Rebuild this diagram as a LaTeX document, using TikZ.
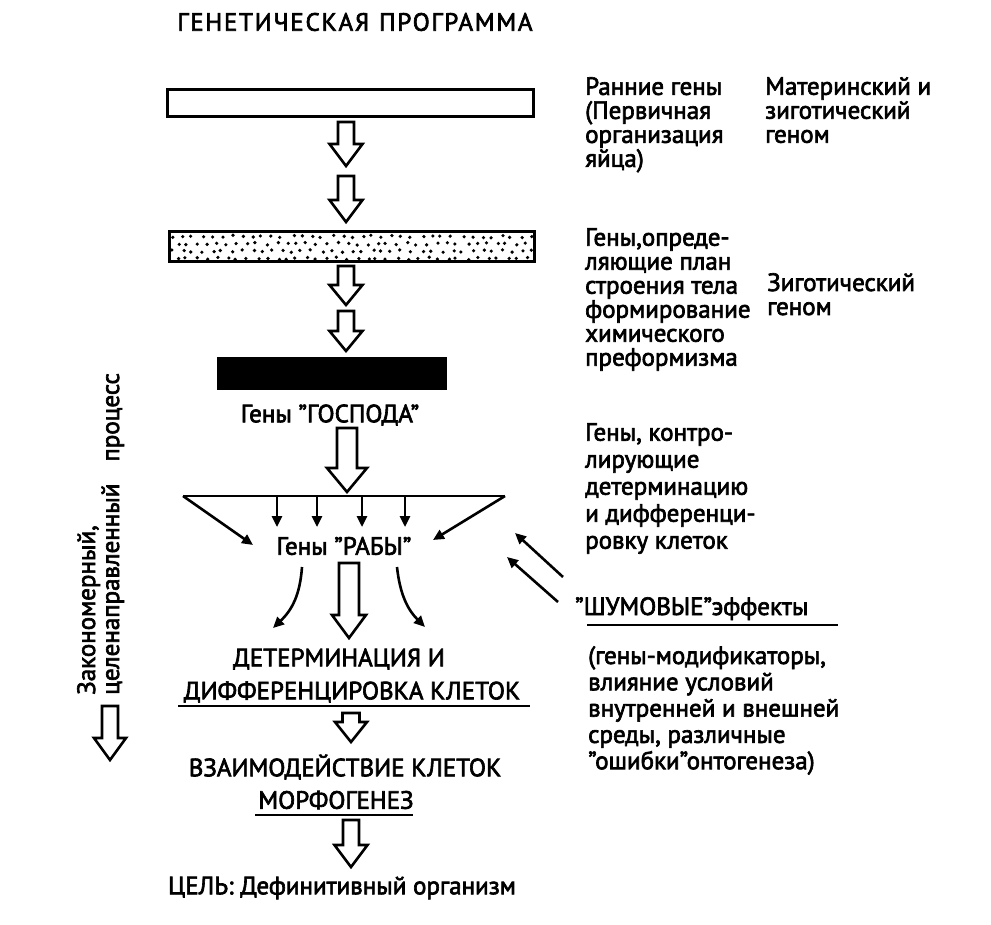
\documentclass[tikz,border=0pt]{standalone}
\usepackage{fontspec}
\setmainfont{PT Sans}[FakeBold=2.6]
\usetikzlibrary{arrows.meta}
\newcommand{\blockarr}[6]{%
  \draw[barrsty] ({#1-#4},#2) -- ({#1+#4},#2) -- ({#1+#4},{#3-#6}) -- ({#1+#5},{#3-#6}) -- (#1,#3) -- ({#1-#5},{#3-#6}) -- ({#1-#4},{#3-#6}) -- cycle;}
\begin{document}
\begin{tikzpicture}[x=1pt,y=-1pt,
  txt/.style={inner sep=0pt, font=\fontsize{25}{24}\selectfont},
  lbl/.style={txt, align=left},
  conn/.style={line width=2.6pt, -{Triangle[length=11pt,width=10pt]}},
  uline/.style={line width=2.6pt},
  barrsty/.style={draw, line width=2.6pt, fill=white, line join=miter},
  barbox/.style={draw, line width=3pt, inner sep=0pt}]
\useasboundingbox[fill=white] (0,0) rectangle (991,925);

% title
\node[txt, font=\fontsize{25}{24}\selectfont\addfontfeature{LetterSpace=7}] (title) at (355,22) {ГЕНЕТИЧЕСКАЯ\hspace{10pt}ПРОГРАММА};

% bars
\node[barbox, fill=white, minimum width=366pt, minimum height=27pt] (bar1) at (350.5,103) {};
\node[barbox, fill=white, minimum width=365pt, minimum height=30pt] (bar2) at (352,246.5) {};
\begin{scope}
  \clip (170,233) rectangle (534,260);
  \pgfmathsetseed{4242}
  \foreach \r in {0,...,3}{
    \foreach \c in {0,...,37}{
      \pgfmathsetmacro\px{172 + 10*\c + 5*mod(\r,2) + 2.5*rand}
      \pgfmathsetmacro\py{236.5 + 7.3*\r + 1.3*rand}
      \fill (\px,\py) circle[radius=1.8pt];
    }
  }
\end{scope}
\node[fill=black, inner sep=0pt, minimum width=230pt, minimum height=33pt] (bar3) at (332,373.5) {};

% block arrows along the axis
\blockarr{346}{122}{166}{8}{16.5}{22}
\blockarr{346}{176}{222}{8}{16.5}{22}
\blockarr{346}{266}{305}{8}{16.5}{20}
\blockarr{346}{311}{351}{8}{16.5}{20}

\node[txt] (master) at (330,415) {Гены ”ГОСПОДА”};
\blockarr{347}{428}{492}{10}{20}{24}

% fan to slave genes
\coordinate (tl) at (183,496);
\coordinate (tr) at (505,496);
\draw[uline] (tl) -- (tr);
\node[txt] (slave) at (344,546) {Гены ”РАБЫ”};
\coordinate (tlt) at (253,545);
\coordinate (trt) at (433,540);
\draw[conn] (tl) -- (tlt);
\draw[conn] (tr) -- (trt);
\foreach \x in {277,317,362,405}{
  \draw[conn] (\x,0 |- tl) -- (\x,527);
}

\blockarr{349}{563}{638}{10}{17}{23}
\coordinate (cl0) at (302,567);
\coordinate (cl1) at (273,628);
\coordinate (cr0) at (397,567);
\coordinate (cr1) at (425,627);
\draw[conn] (cl0) .. controls (300,595) and (292,610) .. (cl1);
\draw[conn] (cr0) .. controls (400,595) and (408,610) .. (cr1);

\node[txt] (det1) at (339,659) {ДЕТЕРМИНАЦИЯ И};
\node[txt] (det2) at (352,692) {ДИФФЕРЕНЦИРОВКА КЛЕТОК};
\draw[uline] (178,706) -- (530,706);
\blockarr{351}{713}{742}{8.5}{16}{20}
\node[txt] (inter) at (345,767) {ВЗАИМОДЕЙСТВИЕ КЛЕТОК};
\node[txt] (morph) at (336,800) {МОРФОГЕНЕЗ};
\draw[uline] (255,815) -- (413,815);
\blockarr{351}{820}{867}{8}{16.5}{22}
\node[txt] (goal) at (342,888) {ЦЕЛЬ: Дефинитивный организм};

% vertical text and left arrow
\node[lbl, rotate=90, anchor=north west] (proc) at (77,695) {Закономерный,\\целенаправленный\hspace{22pt}процесс};
\blockarr{110}{706}{760}{8}{16}{22}

% right column
\node[lbl, anchor=north west] (early) at (585,77) {Ранние гены\\(Первичная\\организация\\яйца)};
\node[lbl, anchor=north west] (mat) at (765,77) {Материнский и\\зиготический\\геном};
\node[lbl, anchor=north west] (plan) at (585,228) {Гены,опреде-\\ляющие план\\строения тела\\формирование\\химического\\преформизма};
\node[lbl, anchor=north west] (zyg) at (767,273) {Зиготический\\геном};
\node[lbl, anchor=north west, font=\fontsize{25}{27}\selectfont] (ctrl) at (585,423) {Гены, контро-\\лирующие\\детерминацию\\и дифференци-\\ровку клеток};
\node[txt, anchor=north west] (noise) at (575,597) {”ШУМОВЫЕ”эффекты};
\draw[uline] (587,625) -- (838,625);
\node[lbl, anchor=north west, font=\fontsize{25}{26.3}\selectfont] (mods) at (588,646) {(гены-модификаторы,\\влияние условий\\внутренней и внешней\\среды, различные\\”ошибки”онтогенеза)};

% noise arrows
\coordinate (n1) at (563,577);
\coordinate (n1t) at (515,533);
\coordinate (n2) at (558,602);
\coordinate (n2t) at (507,557);
\draw[conn] (n1) -- (n1t);
\draw[conn] (n2) -- (n2t);
\end{tikzpicture}
\end{document}
